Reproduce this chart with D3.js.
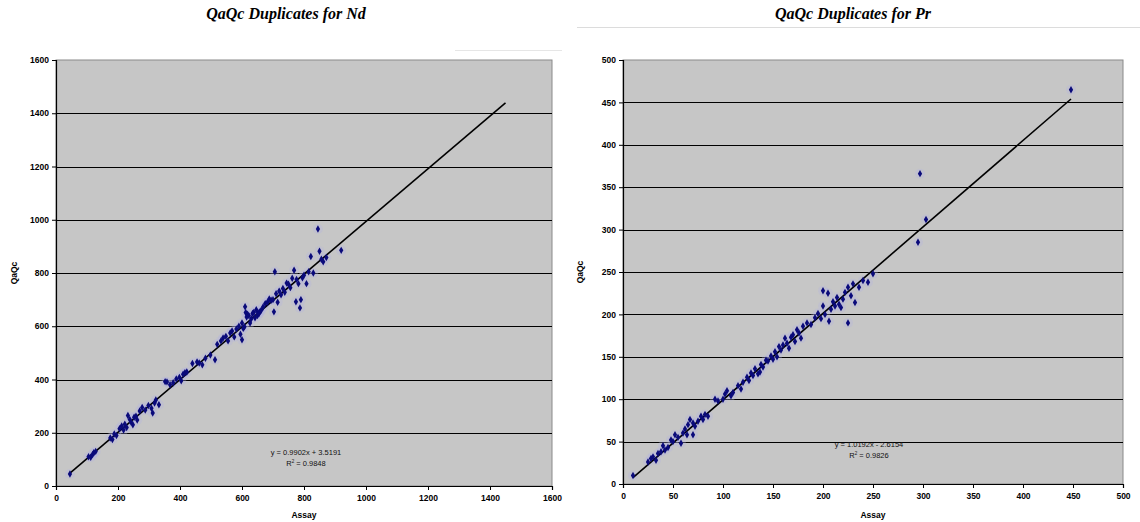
<!DOCTYPE html>
<html>
<head>
<meta charset="utf-8">
<script src="https://cdn.jsdelivr.net/npm/d3@7"></script>
<style>
  body { margin: 0; background: #fff; }
  svg { display: block; }
  .tick text { font-family: "Liberation Sans", Arial, sans-serif; font-size: 8.5px; font-weight: bold; fill: #000; }
</style>
</head>
<body>
<svg id="chart" width="1140" height="522"></svg>
<script>
// Nd duplicates: [assay, qaqc]
const ndPoints = [
  [45, 45], [105, 110], [112, 108], [118, 118], [122, 125], [128, 130], [175, 180], [182, 175],
  [188, 195], [195, 190], [205, 215], [212, 225], [218, 210], [222, 232], [228, 220], [232, 265],
  [238, 250], [242, 240], [248, 230], [252, 258], [258, 262], [262, 248], [270, 282], [278, 295],
  [288, 285], [298, 302], [308, 292], [312, 274], [318, 312], [322, 323], [332, 305], [352, 392],
  [358, 391], [368, 380], [378, 388], [388, 402], [398, 408], [404, 395], [410, 420], [416, 425],
  [422, 428], [440, 460], [455, 466], [462, 462], [472, 455], [482, 480], [498, 492], [513, 474],
  [520, 532], [532, 545], [539, 556], [548, 562], [555, 545], [562, 575], [568, 582], [575, 560],
  [582, 590], [590, 600], [595, 570], [600, 549], [600, 612], [604, 592], [608, 598], [610, 673],
  [612, 652], [615, 635], [618, 645], [622, 640], [626, 612], [630, 628], [634, 648], [638, 652],
  [642, 632], [646, 662], [650, 640], [652, 650], [655, 648], [658, 655], [662, 660], [668, 672],
  [675, 685], [682, 690], [688, 702], [694, 698], [700, 700], [703, 654], [706, 805], [710, 722],
  [715, 690], [720, 732], [726, 718], [732, 742], [738, 728], [744, 762], [750, 758], [756, 745],
  [762, 780], [768, 810], [774, 692], [776, 776], [782, 760], [787, 669], [790, 700], [795, 782],
  [800, 792], [808, 760], [815, 805], [822, 862], [830, 800], [845, 965], [850, 882], [856, 852],
  [862, 842], [872, 858], [920, 885]
];
const ndFit = { slope: 0.9902, intercept: 3.5191, r2: 0.9848, from: 45, to: 1450 };
const ndTicks = [0, 200, 400, 600, 800, 1000, 1200, 1400, 1600];

// Pr duplicates: [assay, qaqc]
const prPoints = [
  [10, 10], [25, 26], [28, 30], [30, 32], [33, 28], [35, 36], [38, 38], [40, 45], [42, 40],
  [45, 43], [48, 52], [50, 50], [52, 58], [55, 55], [58, 48], [60, 60], [62, 65], [64, 58],
  [65, 70], [67, 76], [70, 58], [70, 72], [72, 68], [75, 74], [78, 80], [80, 76], [82, 82],
  [85, 80], [92, 100], [95, 98], [100, 100], [102, 106], [104, 110], [108, 104], [110, 108],
  [115, 116], [118, 112], [120, 120], [124, 126], [126, 122], [128, 131], [130, 128], [132, 136],
  [135, 130], [137, 132], [138, 141], [140, 138], [143, 146], [145, 145], [148, 151], [150, 147],
  [152, 156], [154, 150], [156, 162], [158, 158], [160, 164], [162, 172], [164, 166], [166, 160],
  [168, 173], [170, 176], [172, 168], [174, 182], [176, 178], [178, 172], [180, 186], [184, 190],
  [188, 188], [192, 196], [195, 201], [198, 195], [200, 228], [200, 210], [202, 200], [205, 225],
  [206, 192], [208, 206], [210, 215], [212, 210], [214, 220], [216, 212], [218, 208], [220, 218],
  [222, 226], [225, 190], [225, 232], [228, 222], [230, 236], [232, 214], [236, 232], [240, 240],
  [245, 238], [250, 248], [295, 285], [297, 366], [303, 312], [448, 465]
];
const prFit = { slope: 1.0192, intercept: -2.6154, r2: 0.9826, from: 10, to: 448 };
const prTicks = [0, 50, 100, 150, 200, 250, 300, 350, 400, 450, 500];

const svg = d3.select("#chart");

function drawPanel(opts) {
  const x = d3.scaleLinear().domain([0, opts.max]).range([opts.left, opts.right]);
  const y = d3.scaleLinear().domain([0, opts.max]).range([opts.bottom, opts.top]);
  const g = svg.append("g");

  // title
  g.append("text")
    .attr("x", opts.titleX).attr("y", 19)
    .attr("text-anchor", "middle")
    .style("font-family", "'Liberation Serif', 'Times New Roman', serif")
    .style("font-size", "16px").style("font-weight", "bold").style("font-style", "italic")
    .text(opts.title);

  // plot area
  g.append("rect")
    .attr("x", opts.left).attr("y", opts.top)
    .attr("width", opts.right - opts.left).attr("height", opts.bottom - opts.top)
    .attr("fill", "#c6c6c6").attr("stroke", "#8a8a8a").attr("stroke-width", 1);

  // gridlines
  g.selectAll(".grid").data(opts.ticks.slice(1, -1)).enter().append("line")
    .attr("x1", opts.left).attr("x2", opts.right)
    .attr("y1", d => Math.round(y(d)) + 0.5).attr("y2", d => Math.round(y(d)) + 0.5)
    .attr("stroke", "#000").attr("stroke-width", 1);

  const xAxis = g.append("g").attr("transform", `translate(0,${opts.bottom})`)
    .call(d3.axisBottom(x).tickValues(opts.ticks).tickFormat(d3.format("d")).tickSize(4).tickPadding(5));
  const yAxis = g.append("g").attr("transform", `translate(${opts.left},0)`)
    .call(d3.axisLeft(y).tickValues(opts.ticks).tickFormat(d3.format("d")).tickSize(4).tickPadding(3));
  [xAxis, yAxis].forEach(a => {
    a.select(".domain").attr("stroke", "#000").attr("stroke-width", 1.2);
    a.selectAll(".tick line").attr("stroke", "#000");
  });

  // axis titles
  g.append("text")
    .attr("x", (opts.left + opts.right) / 2).attr("y", 518)
    .attr("text-anchor", "middle")
    .style("font-family", "'Liberation Sans', Arial, sans-serif")
    .style("font-size", "8.5px").style("font-weight", "bold")
    .text("Assay");
  g.append("text")
    .attr("transform", `translate(${opts.yTitleX},${(opts.top + opts.bottom) / 2}) rotate(-90)`)
    .attr("text-anchor", "middle")
    .style("font-family", "'Liberation Sans', Arial, sans-serif")
    .style("font-size", "8.5px").style("font-weight", "bold")
    .text("QaQc");

  // halo behind markers
  g.selectAll(".halo").data(opts.points).enter().append("circle")
    .attr("cx", d => x(d[0])).attr("cy", d => y(d[1])).attr("r", 5)
    .attr("fill", "#b4b4e2").attr("opacity", 0.3);

  // trendline
  const f = opts.fit;
  g.append("line")
    .attr("x1", x(f.from)).attr("y1", y(f.slope * f.from + f.intercept))
    .attr("x2", x(f.to)).attr("y2", y(f.slope * f.to + f.intercept))
    .attr("stroke", "#000").attr("stroke-width", 1.6);

  g.selectAll(".pt").data(opts.points).enter().append("path")
    .attr("d", d3.symbol(d3.symbolDiamond, 16))
    .attr("transform", d => `translate(${x(d[0])},${y(d[1])})`)
    .attr("fill", "#0a0a7a");

  // equation label
  const sign = f.intercept < 0 ? "- " : "+ ";
  const eq = g.append("text")
    .attr("text-anchor", "middle")
    .style("font-family", "'Liberation Sans', Arial, sans-serif")
    .style("font-size", "7.5px").attr("fill", "#111");
  eq.append("tspan").attr("x", opts.eqX).attr("y", opts.eqY)
    .text(`y = ${f.slope}x ${sign}${Math.abs(f.intercept)}`);
  const r = eq.append("tspan").attr("x", opts.eqX).attr("y", opts.eqY + 11);
  r.text("R");
  r.append("tspan").attr("dy", -3).style("font-size", "4.5px").text("2");
  r.append("tspan").attr("dy", 3).text(` = ${f.r2}`);
}

drawPanel({
  title: "QaQc Duplicates for Nd", titleX: 286, max: 1600, ticks: ndTicks,
  left: 56, right: 552, top: 60, bottom: 486,
  points: ndPoints, fit: ndFit, eqX: 306, eqY: 454.5, yTitleX: 17
});
drawPanel({
  title: "QaQc Duplicates for Pr", titleX: 853, max: 500, ticks: prTicks,
  left: 623, right: 1123, top: 60, bottom: 484,
  points: prPoints, fit: prFit, eqX: 869, eqY: 447, yTitleX: 583
});

// faint frame lines of the original chart boxes
svg.append("line").attr("x1", 577).attr("x2", 1140).attr("y1", 27.5).attr("y2", 27.5)
  .attr("stroke", "#dcdcdc");
svg.append("line").attr("x1", 455).attr("x2", 562).attr("y1", 50.5).attr("y2", 50.5)
  .attr("stroke", "#e6e6e6");
</script>
</body>
</html>
